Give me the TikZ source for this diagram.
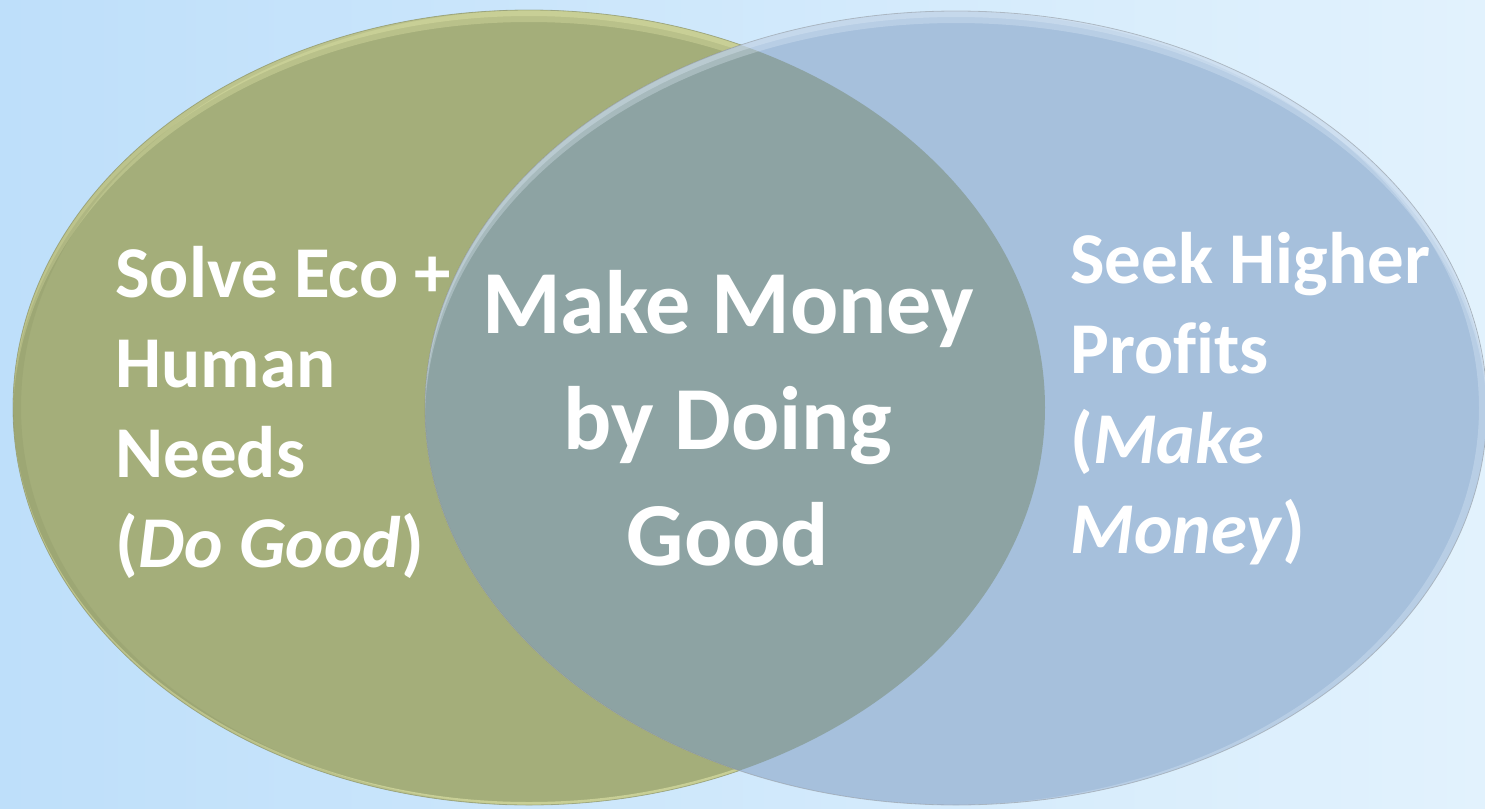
\documentclass[tikz,border=0pt]{standalone}
\usepackage{fontspec}
\setmainfont{Carlito}[Ligatures=CommonOff]
\definecolor{bgLeft}{RGB}{190,223,250}
\definecolor{bgRight}{RGB}{226,242,253}
\definecolor{oliveFill}{RGB}{164,174,122}
\definecolor{oliveLight}{RGB}{236,240,178}
\definecolor{oliveDark}{RGB}{120,128,86}
\definecolor{blueFill}{RGB}{166,192,220}
\definecolor{blueLight}{RGB}{228,240,252}
\definecolor{overlapFill}{RGB}{141,163,163}
\tikzset{
  sidetext/.style={text=white, align=left, inner sep=0pt, font=\bfseries\fontsize{36.5}{45}\selectfont},
  midtext/.style={text=white, align=center, inner sep=0pt, font=\bfseries\fontsize{45}{58}\selectfont},
  goodshape/.style={x radius=516, y radius=397.5},
  moneyshape/.style={x radius=531, y radius=397}
}
\begin{document}
\begin{tikzpicture}[x=0.5pt, y=-0.5pt]
    \useasboundingbox (0,0) rectangle (1485,809);
    \clip (0,0) rectangle (1485,809);
    \shade[left color=bgLeft, right color=bgRight] (0,0) rectangle (1485,809);
    \coordinate (goodC) at (529,407.5);
    \coordinate (moneyC) at (956,408);
    % left ellipse (Do Good)
    \fill[oliveFill] (goodC) ellipse [goodshape];
    \begin{scope}
        \clip (goodC) ellipse [goodshape];
        \fill[oliveLight, opacity=0.3, even odd rule] (goodC) ellipse [goodshape] (529,419.5) ellipse [goodshape];
        \fill[oliveLight, opacity=0.3, even odd rule] (goodC) ellipse [goodshape] (529,413.5) ellipse [goodshape];
        \fill[oliveLight, opacity=0.5, even odd rule] (goodC) ellipse [goodshape] (529,404.5) ellipse [goodshape];
        \fill[oliveDark, opacity=0.15, even odd rule] (goodC) ellipse [goodshape] (537,407.5) ellipse [goodshape];
    \end{scope}
    \draw[oliveDark, opacity=0.5, line width=0.4pt] (goodC) ellipse [goodshape];
    % right ellipse (Make Money)
    \fill[blueFill] (moneyC) ellipse [moneyshape];
    \begin{scope}
        \clip (goodC) ellipse [goodshape];
        \fill[overlapFill] (moneyC) ellipse [moneyshape];
    \end{scope}
    \begin{scope}
        \clip (moneyC) ellipse [moneyshape];
        \fill[blueLight, opacity=0.3, even odd rule] (moneyC) ellipse [moneyshape] (956,420) ellipse [moneyshape];
        \fill[blueLight, opacity=0.3, even odd rule] (moneyC) ellipse [moneyshape] (956,414) ellipse [moneyshape];
        \fill[blueLight, opacity=0.3, even odd rule] (moneyC) ellipse [moneyshape] (948,408) ellipse [moneyshape];
    \end{scope}
    \draw[gray, opacity=0.4, line width=0.4pt] (moneyC) ellipse [moneyshape];
    % labels (base = last line)
    \node[sidetext, anchor=base west] (doGood) at (115,567) {Solve Eco +\\Human\\Needs\\(\textit{Do Good})};
    \node[midtext, anchor=base] (both) at (728,565) {Make Money\\by Doing\\Good};
    \node[sidetext, anchor=base west] (makeMoney) at (1070,553) {Seek Higher\\Profits\\(\textit{Make}\\\textit{Money})};
\end{tikzpicture}
\end{document}
